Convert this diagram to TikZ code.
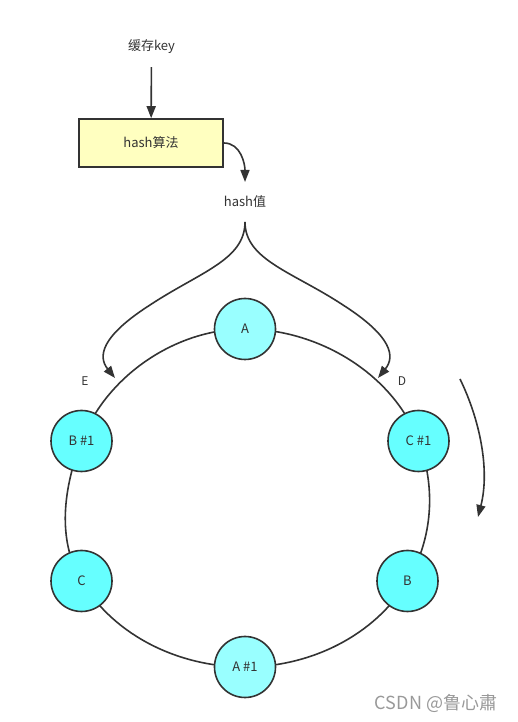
\documentclass[tikz,border=0pt]{standalone}
\usepackage{fontspec}
\newfontfamily\cjk{Noto Sans CJK SC}
\usetikzlibrary{arrows.meta,backgrounds}
\definecolor{ink}{HTML}{333333}
\definecolor{boxfill}{HTML}{FFFFC0}
\definecolor{cyanA}{HTML}{99FFFF}
\definecolor{cyanB}{HTML}{66FFFF}
\begin{document}
\begin{tikzpicture}[x=1pt,y=1pt,>={Triangle[length=12pt,width=9pt]},
		line width=1.6pt,draw=ink,
		every node/.style={font=\cjk\fontsize{13}{15}\selectfont,text=ink},
		algo box/.style={rectangle,draw=ink,fill=boxfill,minimum width=144pt,minimum height=48pt},
		main node/.style={circle,draw=ink,fill=cyanB,minimum size=61pt,inner sep=0pt},
		mark node/.style={font=\cjk\fontsize{12}{14}\selectfont}]
		\useasboundingbox (0,0) rectangle (518,722);
		\node (key) at (151.5,675) {缓存key};
		\node[algo box] (algo) at (151,579) {hash算法};
		\node (hv) at (245,520) {hash值};
		\coordinate (hvin) at (245,540);
		\coordinate (split) at (245,500);
		\coordinate (pE) at (115,344);
		\coordinate (pD) at (378,344);
		\coordinate (rotS) at (460,343);
		\coordinate (rotE) at (478,205);
		% ring nodes
		\node[main node,fill=cyanA] (A) at (245,393) {A};
		\node[main node] (C1) at (418.5,281) {C \#1};
		\node[main node] (B) at (407.5,141) {B};
		\node[main node,fill=cyanA] (A1) at (245,55) {A \#1};
		\node[main node] (C) at (81.5,141) {C};
		\node[main node] (B1) at (81.5,281) {B \#1};
		\begin{scope}[on background layer]
		\draw[draw=ink,line width=1.6pt,looseness=0.9]
		(A.center) to[out=0,in=111] (C1.center)
		to[out=-69,in=59] (B.center)
		to[out=-121,in=0] (A1.center)
		to[out=180,in=-59] (C.center)
		to[out=121,in=-111] (B1.center)
		to[out=69,in=180] (A.center);
		\end{scope}
		\node[mark node] (E) at (85,341) {E};
		\node[mark node] (D) at (402,341) {D};
		% arrows
		\draw[->,shorten <=9pt] (key) -- (algo);
		\draw[->] (algo.east) to[out=0,in=90] (hvin);
		\draw[->] (split) .. controls (245,462) and (200,450) .. (150,417)
			.. controls (100,385) and (98,365) .. (pE);
		\draw[->] (split) .. controls (245,462) and (293,450) .. (343,417)
			.. controls (393,385) and (395,365) .. (pD);
		\draw[->] (rotS) .. controls (480,302) and (490,252) .. (rotE);
		\node[font=\cjk\fontsize{18}{20}\selectfont,text=black!40] (wm) at (436,19) {CSDN @鲁心肅};
\end{tikzpicture}
\end{document}
